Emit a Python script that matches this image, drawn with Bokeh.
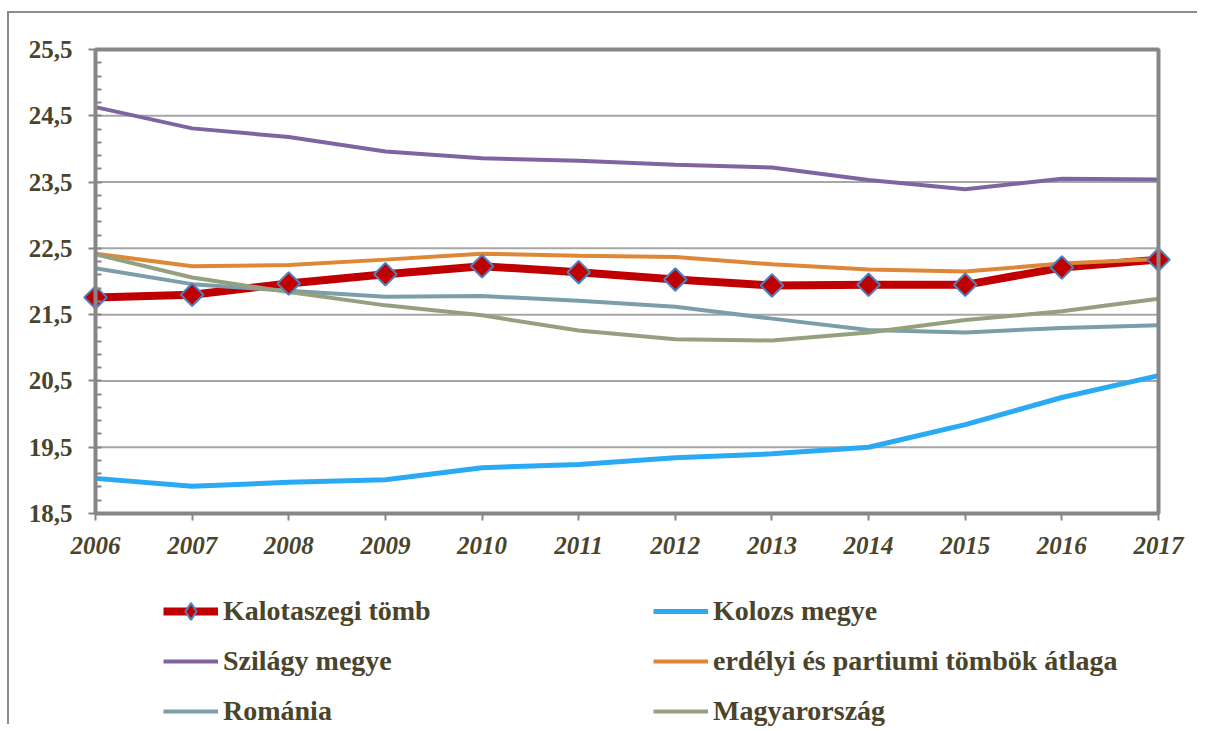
import numpy as np
from bokeh.plotting import figure
from bokeh.models import Range1d, FixedTicker, Legend, LegendItem, BoxAnnotation
from bokeh.embed import file_html
from bokeh.resources import INLINE

years = [2006, 2007, 2008, 2009, 2010, 2011, 2012, 2013, 2014, 2015, 2016, 2017]
year_labels = [str(y) for y in years]

kalotaszeg = [21.76, 21.80, 21.97, 22.11, 22.23, 22.14, 22.03, 21.94, 21.95, 21.95, 22.21, 22.33]
kolozs = [19.03, 18.91, 18.97, 19.01, 19.19, 19.24, 19.34, 19.40, 19.50, 19.84, 20.25, 20.58]
szilagy = [24.63, 24.31, 24.18, 23.96, 23.86, 23.82, 23.76, 23.72, 23.53, 23.39, 23.55, 23.54]
erdelyi = [22.42, 22.23, 22.25, 22.33, 22.42, 22.39, 22.37, 22.26, 22.18, 22.15, 22.27, 22.34]
romania = [22.20, 21.96, 21.86, 21.77, 21.78, 21.71, 21.62, 21.44, 21.27, 21.23, 21.30, 21.34]
magyar = [22.41, 22.06, 21.84, 21.64, 21.49, 21.26, 21.13, 21.11, 21.23, 21.42, 21.55, 21.74]

series_names = ["Kalotaszegi tömb", "Kolozs megye", "Szilágy megye",
                "erdélyi és partiumi tömbök átlaga", "Románia", "Magyarország"]

y_ticks = [18.5, 19.5, 20.5, 21.5, 22.5, 23.5, 24.5, 25.5]
y_labels = ["18,5", "19,5", "20,5", "21,5", "22,5", "23,5", "24,5", "25,5"]

TXT = "#4a442a"
FONT = "Liberation Serif"

X_MIN, X_MAX = years[0], years[-1]
Y_MIN, Y_MAX = y_ticks[0], y_ticks[-1]

# layout in pixels: canvas 1190x713; plot area left 86, right 41 from edges, top 36, bottom 213
W, H = 1190, 713
PL, PR, PT, PB = 86, 41, 36, 213
xpx = (X_MAX - X_MIN) / (W - PL - PR)
ypx = (Y_MAX - Y_MIN) / (H - PT - PB)

p = figure(width=W, height=H, output_backend="svg", toolbar_location=None,
           x_range=Range1d(X_MIN - PL * xpx, X_MAX + PR * xpx),
           y_range=Range1d(Y_MIN - PB * ypx, Y_MAX + PT * ypx),
           min_border_left=0, min_border_right=0, min_border_top=0, min_border_bottom=0)
p.styles = {"border-left": "2px solid #8c8c8c", "border-top": "2px solid #8c8c8c",
            "margin-left": "7px", "margin-top": "11px"}
p.background_fill_color = "white"
p.border_fill_color = "white"
p.outline_line_color = None

# axes
p.xaxis.fixed_location = Y_MIN
p.yaxis.fixed_location = X_MIN
p.xaxis.ticker = FixedTicker(ticks=years)
p.xaxis.major_label_overrides = {y: l for y, l in zip(years, year_labels)}
p.yaxis.ticker = FixedTicker(ticks=y_ticks,
                             minor_ticks=[round(Y_MIN + 0.2 * i, 2) for i in range(36)])
p.yaxis.major_label_overrides = {t: l for t, l in zip(y_ticks, y_labels)}
for ax in (p.xaxis[0], p.yaxis[0]):
    ax.axis_line_color = None
    ax.major_tick_line_color = "#868686"
    ax.major_tick_line_width = 2
    ax.major_tick_in = 0
    ax.major_tick_out = 7
    ax.major_label_text_font = FONT
    ax.major_label_text_font_style = "bold"
    ax.major_label_text_color = TXT
    ax.major_label_text_font_size = "25px"
    ax.major_label_standoff = 16
p.xaxis.major_label_text_font_style = "bold italic"
p.xaxis.minor_tick_line_color = None
p.yaxis.minor_tick_line_color = "#868686"
p.yaxis.minor_tick_line_width = 2
p.yaxis.minor_tick_in = 6
p.yaxis.minor_tick_out = 0

p.xgrid.grid_line_color = None
p.ygrid.grid_line_color = None
# horizontal gridlines across the plot area only
p.segment(x0=[X_MIN] * len(y_ticks), x1=[X_MAX] * len(y_ticks), y0=y_ticks, y1=y_ticks,
          line_color="#a6a6a6", line_width=2)

# lines (Excel series order)
r_kal = p.line(years, kalotaszeg, line_color="#c00000", line_width=8)
r_kol = p.line(years, kolozs, line_color="#2aa9f4", line_width=5)
r_szi = p.line(years, szilagy, line_color="#8064a2", line_width=4)
r_erd = p.line(years, erdelyi, line_color="#de8837", line_width=4)
r_rom = p.line(years, romania, line_color="#7b9ea8", line_width=4)
r_mag = p.line(years, magyar, line_color="#95a07f", line_width=4)
r_kal_m = p.scatter(years, kalotaszeg, marker="square", angle=np.pi / 4, size=16,
                    fill_color="#c00000", line_color="#4f81bd", line_width=2)
# hidden marker renderer used only for the legend swatch (diamond shape)
r_kal_leg = p.scatter(years, kalotaszeg, marker="diamond", size=16,
                      fill_color="#c00000", line_color="#4f81bd", line_width=2, visible=False)

# plot-area border
p.add_layout(BoxAnnotation(left=X_MIN, right=X_MAX, bottom=Y_MIN, top=Y_MAX,
                           fill_alpha=0, line_color="#868686", line_width=4, line_alpha=1))

items = [
    LegendItem(label=series_names[0], renderers=[r_kal, r_kal_leg]),
    LegendItem(label=series_names[2], renderers=[r_szi]),
    LegendItem(label=series_names[4], renderers=[r_rom]),
    LegendItem(label=series_names[1], renderers=[r_kol]),
    LegendItem(label=series_names[3], renderers=[r_erd]),
    LegendItem(label=series_names[5], renderers=[r_mag]),
]
legend = Legend(items=items, location=(154, -6), orientation="vertical", ncols=2,
                margin=0, padding=0, spacing=8,
                glyph_width=55, glyph_height=42, label_height=31, label_width=422,
                label_standoff=5, inactive_fill_alpha=0,
                label_text_font=FONT, label_text_font_style="bold",
                label_text_font_size="28px", label_text_color=TXT,
                background_fill_alpha=0, border_line_alpha=0)
p.add_layout(legend)

open("out.html", "w").write(file_html(p, INLINE))
